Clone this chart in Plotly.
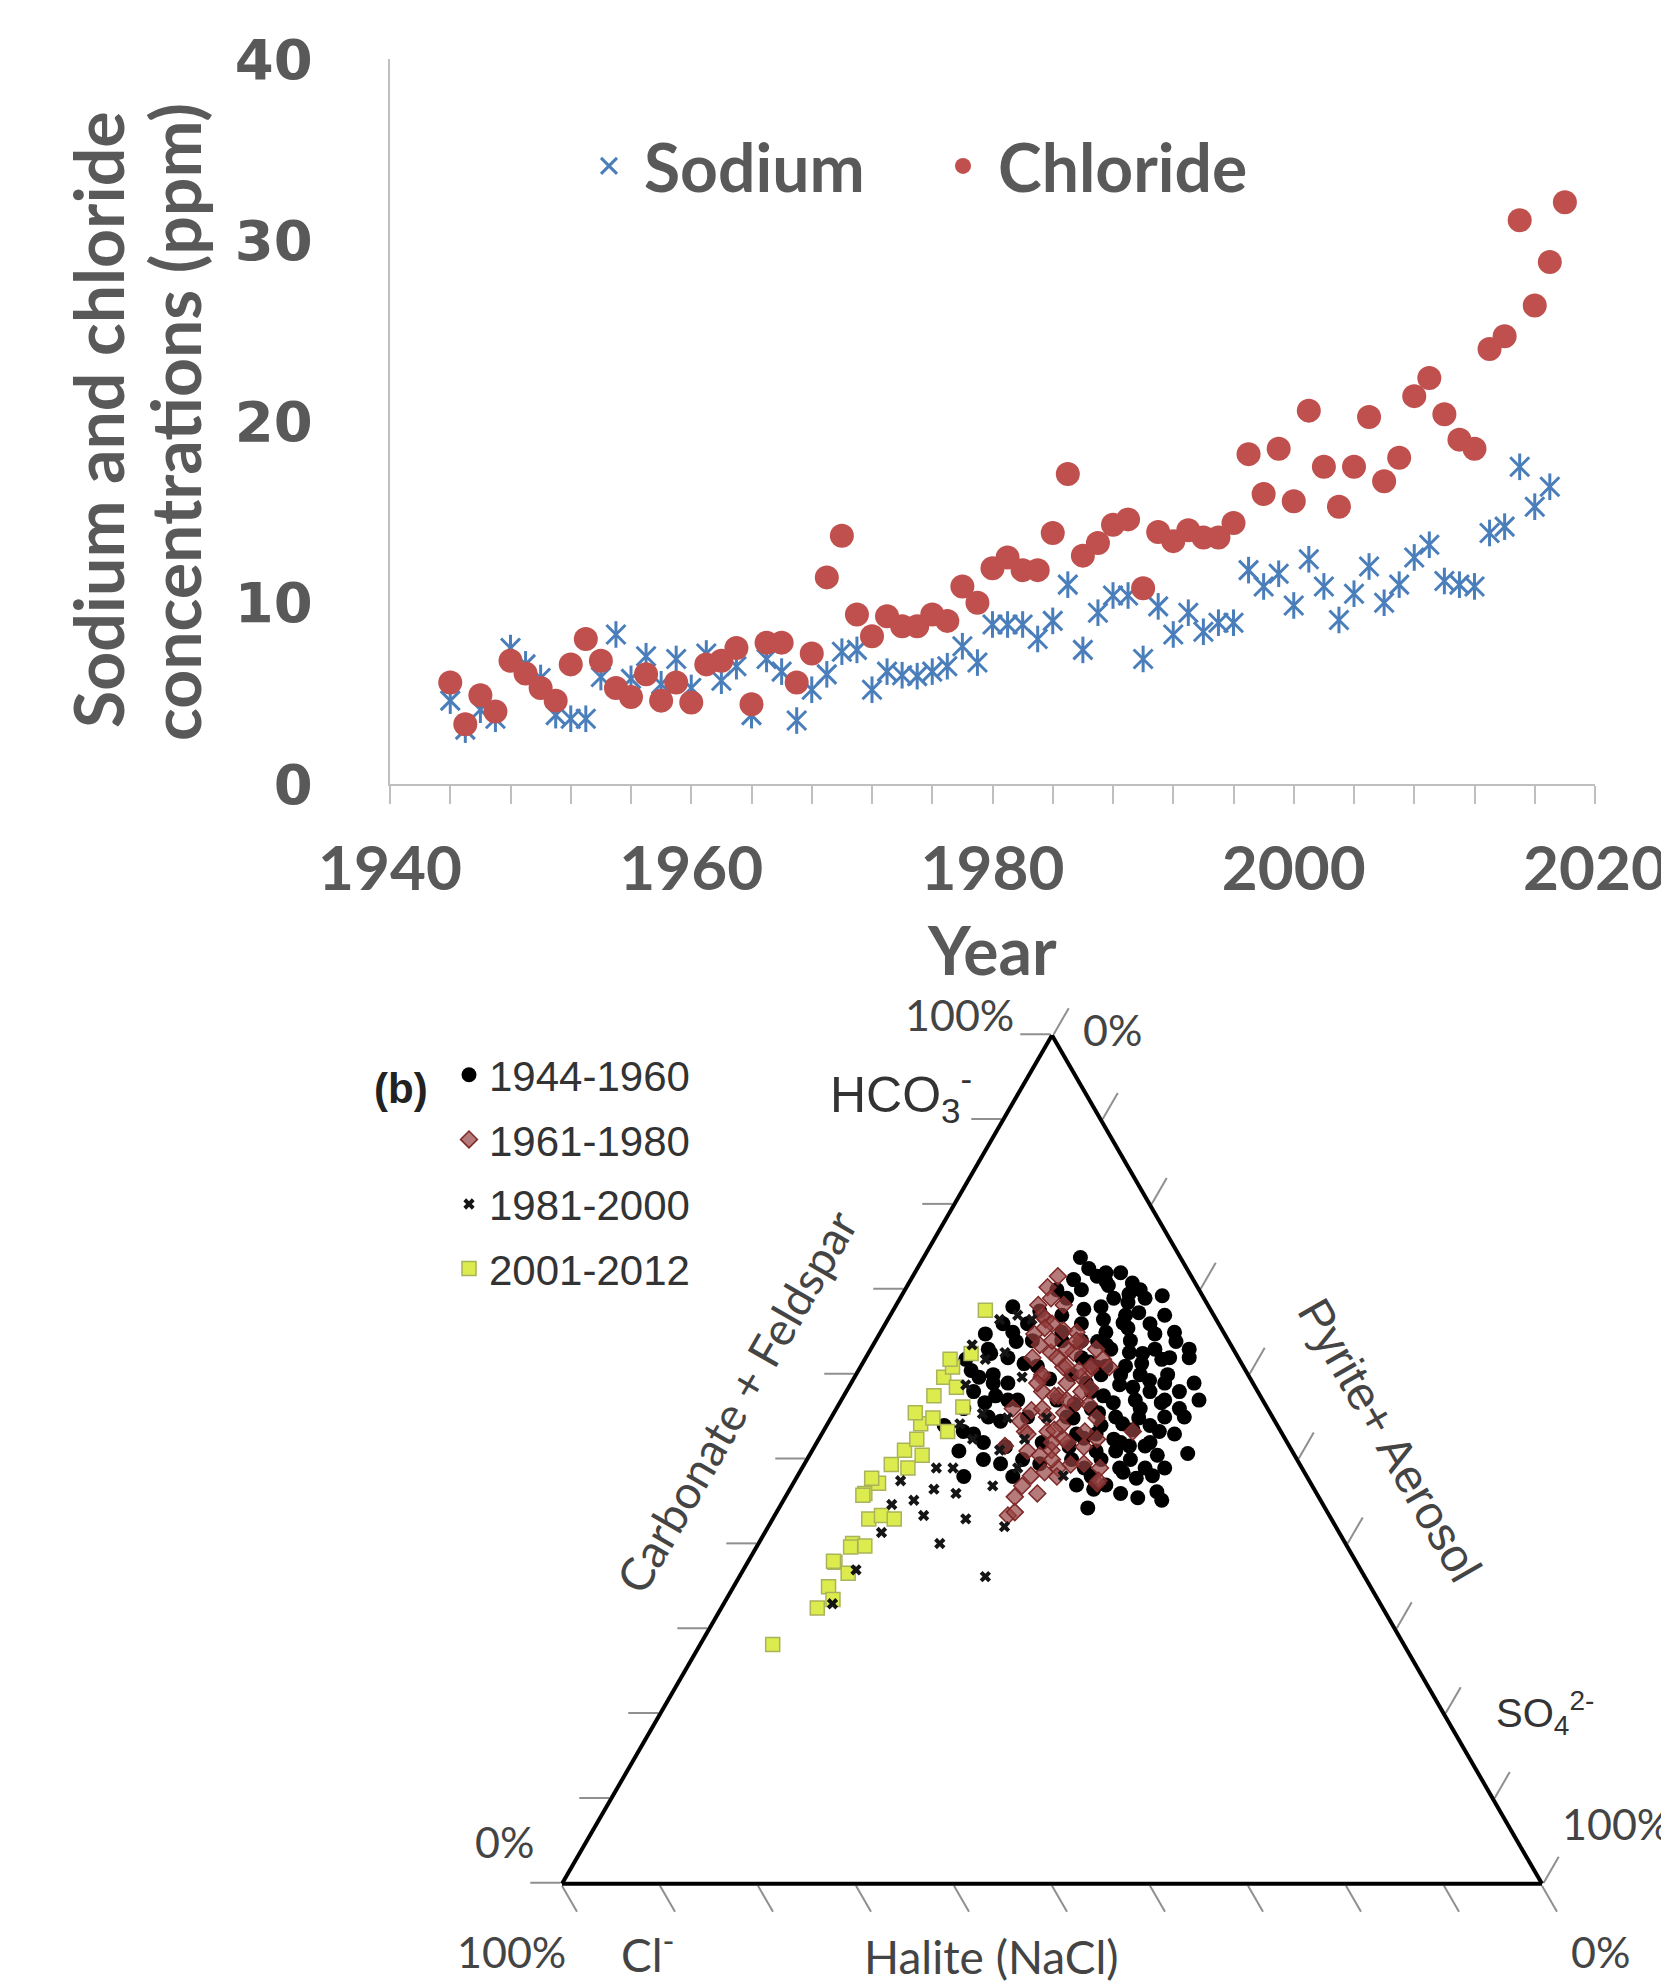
import plotly.graph_objects as go

W, H = 1669, 1982

# ---------------- (a) time series ----------------
years_cl = list(range(1944, 2019))
chloride = [5.6, 3.3, 4.9, 4.0, 6.8, 6.1, 5.3, 4.6, 6.6, 8.0,
            6.8, 5.3, 4.8, 6.05, 4.6, 5.6, 4.5, 6.6, 6.8, 7.5,
            4.4, 7.8, 7.8, 5.6, 7.2, 11.4, 13.7, 9.35, 8.15, 9.25,
            8.7, 8.7, 9.35, 9.0, 10.9, 10.0, 11.9, 12.5, 11.8, 11.8,
            13.85, 17.1, 12.6, 13.3, 14.3, 14.6, 10.8, 13.9, 13.4, 14.0,
            13.6, 13.6, 14.4, 18.2, 16.0, 18.5, 15.6, 20.6, 17.5, 15.3,
            17.5, 20.25, 16.7, 18.0, 21.4, 22.4, 20.4, 19.0, 18.5, 24.0,
            24.7, 31.1, 26.4, 28.8, 32.1]
years_na = list(range(1944, 2018))
sodium = [4.6, 3.0, 4.1, 3.6, 7.5, 6.6, 5.85, 3.8, 3.6, 3.6,
          5.9, 8.25, 5.8, 7.05, 5.5, 6.9, 5.3, 7.2, 5.7, 6.5,
          3.8, 6.9, 6.2, 3.5, 5.2, 6.05, 7.3, 7.4, 5.2, 6.2,
          6.0, 5.95, 6.2, 6.5, 7.6, 6.7, 8.8, 8.8, 8.8, 8.0,
          9.0, 11.0, 7.4, 9.45, 10.4, 10.4, 6.9, 9.8, 8.25, 9.45,
          8.4, 8.9, 8.9, 11.8, 10.9, 11.6, 9.85, 12.4, 10.9, 9.05,
          10.5, 12.0, 10.0, 11.0, 12.5, 13.2, 11.2, 11.0, 10.9, 13.85,
          14.2, 17.5, 15.3, 16.4]

x_tickvals = [1940, 1960, 1980, 2000, 2020]
y_tickvals = [0, 10, 20, 30, 40]

# ---------------- (b) ternary: HCO3 (%) and SO4 (%) per sample ----------------
hco3_1944_1960 = [73.8, 71.2, 71.6, 70.8, 69.3, 69.0, 67.3, 63.9, 64.8, 66.1, 67.7, 63.9, 62.6,
                  61.8, 59.3, 58.8, 56.7, 54.9, 53.3, 51.6, 50.7, 49.0, 47.8, 48.1, 45.2, 46.2,
                  44.3, 49.0, 52.4, 54.9, 56.7, 61.3, 60.9, 69.5, 60.0, 51.6, 54.2, 63.5,
                  66, 65, 64, 62, 61, 60, 58, 57, 56, 55, 54, 53, 52, 51, 50, 49, 68, 67, 66,
                  63, 62, 59, 58, 56, 71, 70, 69, 64, 60, 57, 55, 53, 50, 48, 47, 46, 61, 59,
                  57, 55, 52, 50,
                  65, 67, 62, 59, 57, 55, 53, 60, 63, 58, 70, 72,
                  64.8, 61.8, 59.7, 53.3, 56.7, 63.9, 61.3, 66, 63, 60, 58, 55, 57, 62, 65,
                  52, 50, 54, 51, 48, 68,
                  72.5, 72, 70.5, 70, 69, 68.5, 67, 66.5, 65.5, 65, 64, 63, 62.5, 61.5, 61, 60,
                  59.5, 59, 58.5, 57.5, 57, 56.5, 56, 55.5, 55, 54, 53.5, 52.5, 52, 51.5, 51,
                  50.5, 50, 49.5, 49, 48.5, 47, 46.5, 45.5, 67.5, 66, 64, 62.5, 60.5, 59, 57.5,
                  56, 54.5, 53, 51.5, 49.5, 48]
so4_1944_1960 = [16.0, 16.6, 18.8, 22.8, 26.6, 21.8, 25.2, 30.7, 28.1, 24.2, 19.4, 22.7, 26.6,
                 30.3, 30.3, 27.5, 32.8, 31.4, 34.3, 32.1, 38.5, 32.4, 34.7, 36.2, 38.6, 37.6,
                 31.5, 28.8, 30.1, 24.7, 27.9, 28.5, 24.1, 23.1, 31.8, 33.7, 30.1, 23.8,
                 20, 23, 26, 22, 25, 27, 25, 30, 26, 29, 33, 28, 31, 29, 33, 35, 21, 24, 27,
                 29, 31, 32, 34, 35, 20, 18, 25, 19, 22, 22, 24, 26, 27, 30, 32, 34, 18, 16,
                 18, 20, 23, 22,
                 30, 28, 33, 35, 36.5, 34, 36, 29, 32.5, 31, 24, 21,
                 10.8, 10.3, 12.7, 14.3, 14.8, 14.4, 16.5, 12, 12, 14, 13, 16, 17, 14.5, 13.5,
                 17, 18, 12, 15, 17, 12,
                 17.5, 19.5, 20.5, 15.5, 17, 23.5, 17.5, 22, 25, 18.5, 21, 24.5, 28, 23, 27, 25,
                 20, 24, 29, 26.5, 33, 24, 31, 27, 36, 28, 31.5, 27, 34, 26, 31,
                 35.5, 30, 24, 37, 33, 29, 31, 36, 15, 14.5, 16, 12.5, 11.5, 14.5, 15.5,
                 13, 17.5, 15.5, 19.5, 20, 22]

hco3_1961_1980 = [70.3, 71.6, 68.2, 69.0, 66.5, 64.8, 65.2, 63.9, 62.6, 60.9, 60.6, 61.8, 60.9,
                  59.7, 57.5, 56.7, 54.9, 55.8, 53.3, 52.0, 53.3, 51.6, 51.1, 52.4, 43.4, 45.6,
                  46.9, 48.1, 48.5, 49.0, 49.4, 47.2, 49.0, 53.3, 58.4, 59.7, 62.6, 68.2, 52.4,
                  53.3, 43.8, 47.5,
                  66, 64, 63, 62, 61, 60, 59, 58, 57, 56, 55, 54, 53, 52, 51, 50, 65, 63, 58, 56,
                  67, 65.5, 64, 62, 60.5, 59, 57.5, 56.5, 55.5, 54.5, 53.5, 51.5, 50.5, 49.5, 48,
                  46, 61, 63.5]
so4_1961_1980 = [14.4, 14.8, 14.5, 15.4, 16.1, 15.8, 18.6, 21.0, 18.6, 20.7, 23.6, 24.3, 25.4,
                 19.1, 21.9, 24.1, 27.1, 20.0, 22.9, 25.6, 20.6, 19.4, 24.4, 25.0, 23.8, 23.4,
                 23.5, 23.8, 25.0, 26.1, 27.2, 31.0, 30.4, 26.7, 24.7, 23.1, 20.9, 17.1, 28.4,
                 31.6, 24.3, 31.0,
                 17, 18, 20, 17, 21, 19, 22, 20, 23, 21, 22, 24, 21, 24, 22, 25, 20, 23, 24, 18,
                 15.5, 16.5, 20.5, 19.5, 22.5, 19, 21.5, 25.5, 23.5, 19.5, 23.5, 27.5, 23.5, 28.5,
                 26.5, 25.5, 23.5, 17]

hco3_1981_2000 = [33.0, 41.4, 45.2, 49.0, 43.0, 40.1, 36.2, 42.1, 46.9, 46.0, 49.0, 66.5, 67.0,
                  66.5, 63.5, 61.8, 58.8, 55.4, 54.2, 52.4, 51.1, 46.5, 44.7, 43.4, 49.0, 54.9,
                  52.4, 59.7, 62.6, 54.9, 48.1, 37.0, 47.5]
so4_1981_2000 = [11.1, 11.9, 13.3, 13.7, 19.7, 18.5, 25.1, 24.1, 20.5, 17.2, 15.4, 11.4, 13.0,
                 14.7, 10.1, 12.3, 11.8, 15.2, 13.5, 15.7, 19.1, 14.7, 11.3, 15.2, 22.0, 18.0,
                 21.0, 17.1, 13.9, 22.0, 27.1, 11.5, 10.8]

hco3_2001_2012 = [28.2, 32.5, 35.0, 33.5, 37.9, 36.6, 40.1, 39.8, 43.0, 43.4, 43.0, 46.0, 47.2,
                  49.4, 51.1, 52.4, 49.0, 54.2, 57.5, 59.7, 60.9, 54.9, 53.3, 56.2, 61.8, 67.6,
                  38.0, 39.7, 47.8, 45.8, 50.5, 58.5, 62.5, 55.5]
so4_2001_2012 = [7.4, 9.8, 9.7, 10.9, 8.9, 10.9, 9.6, 11.0, 9.8, 10.9, 12.4, 7.9, 8.7,
                 8.9, 9.4, 10.0, 10.8, 9.5, 9.2, 9.1, 9.4, 10.4, 12.7, 12.8, 8.7, 9.4,
                 8.7, 9.6, 7.7, 7.8, 11.5, 11.0, 10.5, 8.3]


def chloride_pct(a_list, c_list):
    return [round(100 - a - c, 2) for a, c in zip(a_list, c_list)]


def px(X, Y):
    return X / W, 1 - Y / H


fig = go.Figure()

# ---- top chart traces ----
fig.add_trace(go.Scatter(
    x=years_na, y=sodium, mode='markers', name='Sodium', legend='legend',
    marker=dict(symbol='x-thin-open', size=19, color='#4A7EBB', line=dict(width=3, color='#4A7EBB'))))
fig.add_trace(go.Scatter(
    x=years_na, y=sodium, mode='markers', name='Sodium', showlegend=False,
    marker=dict(symbol='line-ns-open', size=19, color='#4A7EBB', line=dict(width=3, color='#4A7EBB'))))
fig.add_trace(go.Scatter(
    x=years_cl, y=chloride, mode='markers', name='Chloride', legend='legend',
    marker=dict(symbol='circle', size=24, color='#C0504D', line=dict(width=0))))

# ---- ternary traces ----
fig.add_trace(go.Scatterternary(
    a=hco3_1944_1960, b=chloride_pct(hco3_1944_1960, so4_1944_1960), c=so4_1944_1960,
    mode='markers', name='1944-1960', legend='legend2', legendgroup='g1', legendrank=1,
    marker=dict(symbol='circle', size=15, color='black', line=dict(width=0))))
fig.add_trace(go.Scatterternary(
    a=hco3_1961_1980, b=chloride_pct(hco3_1961_1980, so4_1961_1980), c=so4_1961_1980,
    mode='markers', name='1961-1980', legend='legend2', legendgroup='g2', legendrank=2,
    marker=dict(symbol='diamond', size=13, color='rgba(150,65,65,0.7)',
                line=dict(width=1.5, color='#7E2828'))))
fig.add_trace(go.Scatterternary(
    a=hco3_2001_2012, b=chloride_pct(hco3_2001_2012, so4_2001_2012), c=so4_2001_2012,
    mode='markers', name='2001-2012', legend='legend2', legendgroup='g4', legendrank=4,
    marker=dict(symbol='square', size=14, color='#DCEB4E', line=dict(width=1.5, color='#A9B35A'))))
fig.add_trace(go.Scatterternary(
    a=hco3_1981_2000, b=chloride_pct(hco3_1981_2000, so4_1981_2000), c=so4_1981_2000,
    mode='markers', name='1981-2000', legend='legend2', legendgroup='g3', legendrank=3,
    marker=dict(symbol='x', size=10, color='#151515', line=dict(width=0))))

gray = '#595959'
axis_gray = '#BFBFBF'

tern_axis = dict(title=dict(text=''), showgrid=False, showline=True, linecolor='black', linewidth=4,
                 ticks='outside', ticklen=30, tickwidth=2, tickcolor='#8f8f8f',
                 dtick=10, showticklabels=False, min=0)

# triangle: base y 1876, width 980, centre x 1044
TRI_L, TRI_R, TRI_BOT, TRI_TOP = 554, 1534, 1876, 1027

fig.update_layout(
    width=W, height=H, margin=dict(l=0, r=0, t=0, b=0),
    paper_bgcolor='white', plot_bgcolor='white',
    xaxis=dict(domain=[382 / W, 1587 / W], range=[1940, 2020],
               tickvals=x_tickvals, ticks='outside', ticklen=18, tickwidth=2, tickcolor=axis_gray,
               showline=True, linecolor=axis_gray, linewidth=2, showgrid=False, zeroline=False,
               tickfont=dict(family='Lato', size=62, color=gray, weight='bold'),
               minor=dict(dtick=4, tick0=1940, ticks='outside', ticklen=18, tickwidth=2,
                          tickcolor=axis_gray, showgrid=False),
               ticklabelstandoff=12, automargin=False),
    yaxis=dict(domain=[1 - 776 / H, 1 - 51 / H], range=[0, 40], tickvals=y_tickvals,
               ticks='', showline=True, linecolor=axis_gray, linewidth=2,
               showgrid=False, zeroline=False,
               tickfont=dict(family='DejaVu Sans', size=56, color=gray, weight='bold'),
               ticklabelstandoff=64, automargin=False),
    ternary=dict(domain=dict(x=[TRI_L / W, TRI_R / W], y=[1 - TRI_BOT / H, 1 - TRI_TOP / H]),
                 sum=100, bgcolor='white',
                 aaxis=tern_axis, baxis=tern_axis, caxis=tern_axis),
    legend=dict(orientation='h', x=566 / W, y=1 - 158 / H, xanchor='left', yanchor='middle',
                font=dict(family='Lato', size=66, color=gray, weight='bold'),
                itemwidth=60, entrywidth=279, bgcolor='rgba(0,0,0,0)'),
    legend2=dict(orientation='v', x=441 / W, y=1 - 1033 / H, xanchor='left', yanchor='top',
                 font=dict(family='Liberation Sans', size=42, color='#333333'),
                 itemwidth=30, tracegroupgap=7, bgcolor='rgba(0,0,0,0)'),
    showlegend=True,
)

ann = []


def add_text(text, X, Y, size, family='Lato', color='#444444', angle=0, bold=False, xanchor='center'):
    xp, yp = px(X, Y)
    ann.append(dict(text=text, x=xp, y=yp, xref='paper', yref='paper', showarrow=False,
                    xanchor=xanchor, yanchor='middle', textangle=angle,
                    font=dict(family=family, size=size, color=color,
                              weight='bold' if bold else 'normal')))


# top chart titles
add_text('Year', 984, 941, 66, color=gray, bold=True)
add_text('Sodium and chloride', 90, 412, 68, color=gray, angle=-90, bold=True)
add_text('concentrations (ppm)', 166, 414, 68, color=gray, angle=-90, bold=True)

# ternary labels
add_text('(b)', 393, 1080, 42, family='Liberation Sans', color='#222222', bold=True)
add_text('100%', 952, 1006, 43)
add_text('0%', 1104, 1021, 43)
add_text('HCO<sub>3</sub><sup>-</sup>', 893, 1086, 50, family='Liberation Sans', color='#333333')
add_text('Carbonate + Feldspar', 728, 1393, 46, angle=-60)
add_text('Pyrite+ Aerosol', 1382, 1431, 47, family='Liberation Sans', angle=60)
add_text('SO<sub>4</sub><sup>2-</sup>', 1537, 1705, 40, family='Liberation Sans', color='#333333')
add_text('100%', 1608, 1815, 43)
add_text('0%', 1592, 1943, 43)
add_text('100%', 503, 1943, 43)
add_text('Cl<sup>-</sup>', 640, 1943, 46)
add_text('Halite (NaCl)', 983, 1948, 46)
add_text('0%', 497, 1833, 43)

fig.update_layout(annotations=ann)

fig.write_html('out.html')
